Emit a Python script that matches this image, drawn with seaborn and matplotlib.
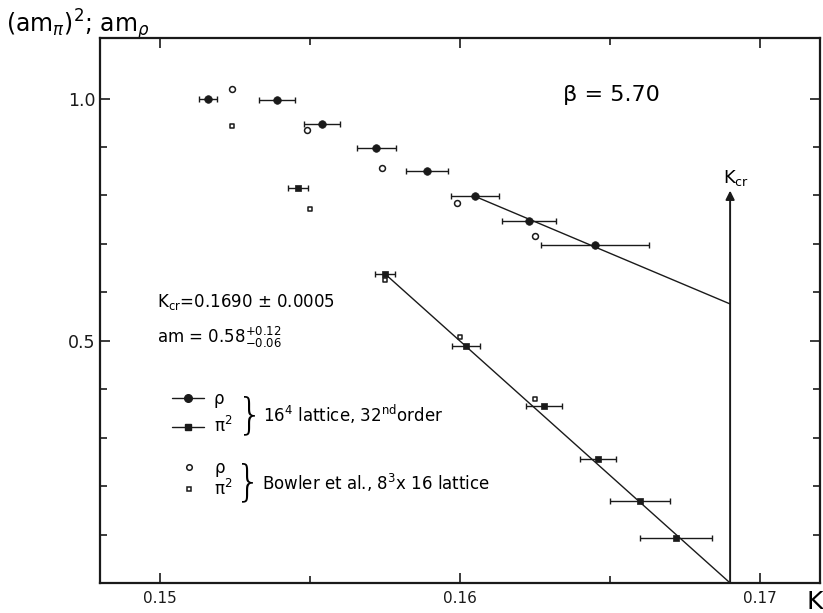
import matplotlib
matplotlib.use("Agg")
import matplotlib.pyplot as plt
from matplotlib.lines import Line2D
from matplotlib.ticker import FixedLocator, FixedFormatter
import seaborn as sns

sns.set_theme(style="ticks")
plt.rcParams['font.family'] = ['DejaVu Sans']
plt.rcParams['mathtext.fontset'] = 'dejavusans'
plt.rcParams['text.color'] = 'black'
plt.rcParams['axes.labelcolor'] = 'black'
plt.rcParams['xtick.color'] = 'black'
plt.rcParams['ytick.color'] = 'black'
plt.rcParams['axes.edgecolor'] = 'black'

# rho, 16^4 lattice, 32nd order
rho_k = [0.1516, 0.1539, 0.1554, 0.1572, 0.1589, 0.1605, 0.1623, 0.1645]
rho_m = [1.000, 0.998, 0.948, 0.898, 0.850, 0.798, 0.747, 0.698]
rho_err = [0.0003, 0.0006, 0.0006, 0.00065, 0.0007, 0.0008, 0.0009, 0.0018]

# pi^2, 16^4 lattice, 32nd order
pi_k = [0.1546, 0.1575, 0.1602, 0.1628, 0.1646, 0.1660, 0.1672]
pi_m2 = [0.815, 0.638, 0.489, 0.366, 0.256, 0.169, 0.092]
pi_err = [0.00034, 0.00034, 0.00046, 0.0006, 0.0006, 0.001, 0.0012]

# Bowler et al., 8^3 x 16 lattice
bowler_rho_k = [0.1524, 0.1549, 0.1574, 0.1599, 0.1625]
bowler_rho_m = [1.019, 0.936, 0.856, 0.785, 0.717]
bowler_pi_k = [0.1524, 0.1550, 0.1575, 0.1600, 0.1625]
bowler_pi_m2 = [0.943, 0.773, 0.625, 0.507, 0.380]

# linear fits, ending at K_cr
K_CR = 0.1690
rho_fit_k = [0.1605, K_CR]
rho_fit_m = [0.798, 0.576]
pi_fit_k = [0.1575, K_CR]
pi_fit_m2 = [0.638, 0.0]

x_ticks = [0.15, 0.16, 0.17]
x_tick_labels = ["0.15", "0.16", "0.17"]
x_minor = [0.155, 0.165]
y_ticks = [0.5, 1.0]
y_tick_labels = ["0.5", "1.0"]
y_minor = [0.1, 0.2, 0.3, 0.4, 0.6, 0.7, 0.8, 0.9]


def main():
    fig = plt.figure(figsize=(8.23, 6.13), dpi=100)
    ax = fig.add_axes([0.1215, 0.049, 0.875, 0.889])

    # error bars
    ax.errorbar(rho_k, rho_m, xerr=rho_err, fmt='none', ecolor='k',
                elinewidth=1.0, capsize=2.3, capthick=1.0)
    ax.errorbar(pi_k, pi_m2, xerr=pi_err, fmt='none', ecolor='k',
                elinewidth=1.0, capsize=2.3, capthick=1.0)

    # fit lines
    sns.lineplot(x=rho_fit_k, y=rho_fit_m, color='k', lw=1.0, ax=ax)
    sns.lineplot(x=pi_fit_k, y=pi_fit_m2, color='k', lw=1.0, ax=ax)

    # points
    sns.scatterplot(x=rho_k, y=rho_m, marker='o', s=30, color='k',
                    edgecolor='k', linewidth=0.5, ax=ax, zorder=4)
    sns.scatterplot(x=pi_k, y=pi_m2, marker='s', s=20, color='k',
                    edgecolor='k', linewidth=0.5, ax=ax, zorder=4)
    sns.scatterplot(x=bowler_rho_k, y=bowler_rho_m, marker='o', s=18,
                    facecolor='white', edgecolor='k', linewidth=1.1, ax=ax, zorder=4)
    sns.scatterplot(x=bowler_pi_k, y=bowler_pi_m2, marker='s', s=10,
                    facecolor='white', edgecolor='k', linewidth=1.1, ax=ax, zorder=4)

    # K_cr arrow
    ax.annotate('', xy=(K_CR, 0.81), xytext=(K_CR, 0.0),
                arrowprops=dict(arrowstyle='-|>', color='k', lw=1.4,
                                mutation_scale=13, shrinkA=0, shrinkB=0),
                annotation_clip=False)
    ax.text(K_CR + 0.0002, 0.835, r'K$_{\rm cr}$', fontsize=13,
            ha='center', va='center')

    ax.text(0.16505, 1.008, 'β = 5.70', fontsize=16, ha='center', va='center')
    ax.text(0.1499, 0.581, r'K$_{\rm cr}$=0.1690 ± 0.0005', fontsize=12,
            ha='left', va='center')
    ax.text(0.1499, 0.506, r'am = 0.58$^{+0.12}_{-0.06}$', fontsize=12,
            ha='left', va='center')

    # legends
    h1 = [Line2D([], [], color='k', lw=1.0, marker='o', ms=5.5),
          Line2D([], [], color='k', lw=1.0, marker='s', ms=4.5)]
    leg1 = ax.legend(h1, ['ρ', 'π$^2$'], loc='upper left',
                     bbox_to_anchor=(0.1, 0.354), frameon=False, fontsize=12,
                     handlelength=1.9, handletextpad=0.6, labelspacing=0.5,
                     borderpad=0, borderaxespad=0)
    ax.add_artist(leg1)
    h2 = [Line2D([], [], color='k', ls='none', marker='o', ms=4,
                 mfc='white', mew=1.1),
          Line2D([], [], color='k', ls='none', marker='s', ms=3.2,
                 mfc='white', mew=1.1)]
    ax.legend(h2, ['ρ', 'π$^2$'], loc='upper left',
              bbox_to_anchor=(0.115, 0.228), frameon=False, fontsize=12,
              handlelength=0.8, handletextpad=1.1, labelspacing=0.15,
              borderpad=0, borderaxespad=0)

    ax.text(0.15302, 0.346, '}', fontsize=30, ha='center', va='center',
            fontweight='light')
    ax.text(0.15342, 0.347, r'16$^4$ lattice, 32$^{\rm nd}$order', fontsize=12,
            ha='left', va='center')
    ax.text(0.15295, 0.206, '}', fontsize=30, ha='center', va='center',
            fontweight='light')
    ax.text(0.15339, 0.207, r'Bowler et al., 8$^3$x 16 lattice', fontsize=12,
            ha='left', va='center')

    # axes
    ax.set_xlim(0.148, 0.172)
    ax.set_ylim(0.0, 1.125)
    ax.xaxis.set_major_locator(FixedLocator(x_ticks))
    ax.xaxis.set_major_formatter(FixedFormatter(x_tick_labels))
    ax.xaxis.set_minor_locator(FixedLocator(x_minor))
    ax.yaxis.set_major_locator(FixedLocator(y_ticks))
    ax.yaxis.set_major_formatter(FixedFormatter(y_tick_labels))
    ax.yaxis.set_minor_locator(FixedLocator(y_minor))
    ax.tick_params(which='both', direction='in', top=True, right=True,
                   color='k', labelcolor='k', width=1.2)
    ax.tick_params(which='major', length=7)
    ax.tick_params(which='minor', length=5)
    ax.tick_params(axis='x', labelsize=11, pad=6)
    ax.tick_params(axis='y', labelsize=12.5, pad=3)
    for spine in ax.spines.values():
        spine.set_linewidth(1.6)
        spine.set_color('k')

    ax.set_xlabel('K', fontsize=18)
    ax.xaxis.set_label_coords(0.993, -0.012)
    ax.set_ylabel(r'(am$_\pi$)$^2$; am$_\rho$', fontsize=17, rotation=0,
                  ha='center', va='center')
    ax.yaxis.set_label_coords(-0.031, 1.024)

    plt.savefig('out.png', dpi=100)
    plt.close()


if __name__ == '__main__':
    main()
